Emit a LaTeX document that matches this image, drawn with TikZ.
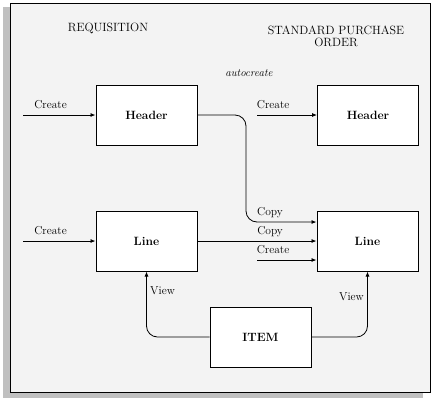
\documentclass[tikz,border=0pt]{standalone}
\usetikzlibrary{arrows.meta}
\definecolor{panelgray}{HTML}{F3F3F3}
\definecolor{shadowgray}{HTML}{C0C0C0}
\begin{document}
\begin{tikzpicture}[x=1pt,y=-1pt,
    box/.style={draw,line width=1pt,fill=white,minimum width=101pt,
        minimum height=60pt,font=\fontsize{12}{14}\selectfont\bfseries},
    lbl/.style={above=5pt,inner sep=1pt,text depth=0pt,
        font=\fontsize{11.5}{13}\selectfont},
    flow/.style={line width=0.8pt,rounded corners=11pt,
        -{Latex[length=5pt,width=4pt]}}]
                \useasboundingbox (0,0) rectangle (433,400);
                \fill[shadowgray]
                    (3,7) rectangle (423,398);
                \draw[line width=1pt,fill=panelgray]
                    (10,3) rectangle (430,392);
                % titles
                \node[font=\fontsize{12}{14}\selectfont] (reqtitle) at (108,28) {REQUISITION};
                \node[font=\fontsize{12}{14}\selectfont,align=center] (potitle) at (336,36)
                    {STANDARD PURCHASE\\[-2pt]ORDER};
                \node[font=\fontsize{11}{13}\selectfont\itshape] (auto) at (249,73) {autocreate};
                % boxes
                \node[box] (reqhead) at (146.5,115) {Header};
                \node[box] (pohead) at (368,115) {Header};
                \node[box] (reqline) at (146.5,241) {Line};
                \node[box] (poline) at (367.5,241) {Line};
                \node[box] (item) at (260.5,337) {ITEM};
                \coordinate (reqheadin) at (23,115);
                \coordinate (poheadin) at (257,115);
                \coordinate (reqlinein) at (23,241);
                \coordinate (polinein) at (257,260);
                % connectors
                \draw[flow]
                    (reqheadin) -- node[lbl,pos=0.38] {Create} (reqhead);
                \draw[flow]
                    (poheadin) -- node[lbl,pos=0.27] {Create} (pohead);
                \draw[flow]
                    (reqlinein) -- node[lbl,pos=0.38] {Create} (reqline);
                \draw[flow]
                    (polinein) -- node[lbl,pos=0.27] {Create} (poline.west |- polinein);
                \draw[flow]
                    (reqline) -- node[lbl,pos=0.61] {Copy} (poline);
                \draw[flow]
                    (reqhead.east) -- (246,115) -- (246,222)
                    -- node[lbl,pos=0.34] {Copy} ([yshift=19pt]poline.west);
                \draw[flow]
                    (item.west) -| node[pos=0.85,right,font=\fontsize{11.5}{13}\selectfont] {View}
                    (reqline.south);
                \draw[flow]
                    (item.east) -| node[pos=0.81,left,font=\fontsize{11.5}{13}\selectfont] {View}
                    (poline.south);
            \end{tikzpicture}
\end{document}
